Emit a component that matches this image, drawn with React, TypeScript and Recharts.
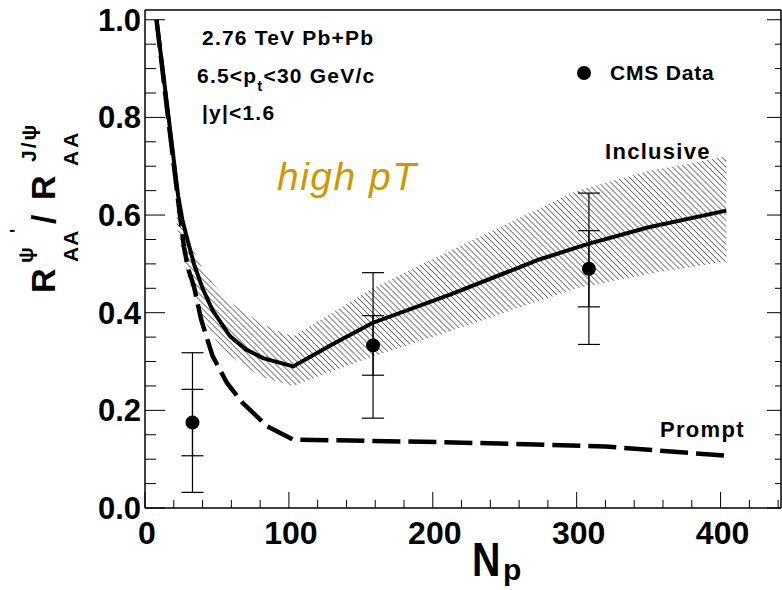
import React from "react";
import { ComposedChart, XAxis, YAxis, Line, Area, Scatter, ErrorBar } from "recharts";

const FONT = "'Liberation Sans', Arial, Helvetica, sans-serif";

// axis ticks: N_part every 20 (labelled every 100), ratio every 0.05 (labelled every 0.2)
const xTicks = [0, 20, 40, 60, 80, 100, 120, 140, 160, 180, 200, 220, 240, 260, 280, 300, 320, 340, 360, 380, 400, 420, 440];
const yTicks = [0, 0.05, 0.1, 0.15, 0.2, 0.25, 0.3, 0.35, 0.4, 0.45, 0.5, 0.55, 0.6, 0.65, 0.7, 0.75, 0.8, 0.85, 0.9, 0.95, 1.0];

// inclusive psi'/J/psi ratio (solid line)
const npInclusive = [8, 16, 23, 26, 29, 34, 40, 47, 59, 70, 82, 103, 130, 158, 212, 274, 308, 350, 404];
const rInclusive = [1.0, 0.81, 0.64, 0.59, 0.555, 0.5, 0.45, 0.405, 0.352, 0.325, 0.307, 0.29, 0.335, 0.379, 0.437, 0.509, 0.541, 0.575, 0.609];

// uncertainty band around the inclusive result
const npBand = [22, 26, 30, 35, 40, 50, 60, 70, 80, 90, 103, 130, 158, 200, 250, 300, 350, 404];
const bandLow = [0.58, 0.52, 0.47, 0.43, 0.39, 0.34, 0.31, 0.29, 0.27, 0.26, 0.25, 0.28, 0.31, 0.35, 0.4, 0.45, 0.48, 0.505];
const bandHigh = [0.62, 0.58, 0.55, 0.52, 0.49, 0.45, 0.42, 0.4, 0.38, 0.365, 0.352, 0.4, 0.45, 0.51, 0.58, 0.65, 0.69, 0.72];

// prompt contribution (dashed line)
const npPrompt = [8, 16, 23, 27, 30, 34, 39, 47, 57, 68, 85, 103, 207, 320, 404];
const rPrompt = [1.0, 0.8, 0.63, 0.536, 0.49, 0.454, 0.386, 0.311, 0.256, 0.215, 0.167, 0.14, 0.135, 0.126, 0.107];

// CMS points with statistical and systematic errors
const npCms = [33, 158.5, 308.5];
const rCms = [0.175, 0.333, 0.49];
const statCms = [0.068, 0.061, 0.078];
const sysCms = [0.143, 0.149, 0.155];

const inclusiveData = npInclusive.map((np, i) => ({ np, r: rInclusive[i] }));
const bandData = npBand.map((np, i) => ({ np, range: [bandLow[i], bandHigh[i]] }));
const promptData = npPrompt.map((np, i) => ({ np, r: rPrompt[i] }));
const cmsData = npCms.map((np, i) => ({ np, r: rCms[i], stat: statCms[i], sys: sysCms[i] }));

const isMajorY = (v: number) => Math.abs(v / 0.2 - Math.round(v / 0.2)) < 1e-6;

const BottomTick = ({ x, y, payload }: any) => {
  const major = payload.value % 100 === 0;
  return (
    <g>
      <line x1={x} y1={y} x2={x} y2={y - (major ? 16 : 8)} stroke="#000" />
      {major && (
        <text x={x + 2} y={y + 36} textAnchor="middle" fontSize={32} fontWeight="bold" fontFamily={FONT} fill="#000">
          {payload.value}
        </text>
      )}
    </g>
  );
};

const TopTick = ({ x, y, payload }: any) => {
  const major = payload.value % 100 === 0;
  return <line x1={x} y1={y} x2={x} y2={y + (major ? 14 : 7)} stroke="#000" />;
};

const LeftTick = ({ x, y, payload }: any) => {
  const major = isMajorY(payload.value);
  return (
    <g>
      <line x1={x} y1={y} x2={x + (major ? 20 : 11)} y2={y} stroke="#000" />
      {major && (
        <text x={x - 4} y={y + 11} textAnchor="end" fontSize={31} fontWeight="bold" fontFamily={FONT} fill="#000">
          {payload.value.toFixed(1)}
        </text>
      )}
    </g>
  );
};

const RightTick = ({ x, y, payload }: any) => {
  const major = isMajorY(payload.value);
  return <line x1={x} y1={y} x2={x - (major ? 14 : 6)} y2={y} stroke="#000" />;
};

const Dot = ({ cx, cy }: any) => <circle cx={cx} cy={cy} r={7} fill="#000" />;

const txt = { fontFamily: FONT, fontWeight: "bold" as const, fill: "#000" };
const frame = { stroke: "#000", strokeWidth: 1.5 };

export default function App() {
  return (
    <div style={{ position: "absolute", left: 0, top: 0, width: 782, height: 590, background: "#fff" }}>
      <ComposedChart width={782} height={590} margin={{ top: 9, right: 0, bottom: 81, left: 144 }}>
        <defs>
          <pattern id="hatch" patternUnits="userSpaceOnUse" width={4.2} height={4.2} patternTransform="rotate(-45)">
            <line x1={0} y1={0} x2={0} y2={4.2} stroke="#111" strokeWidth={1.1} />
          </pattern>
        </defs>
        <XAxis
          xAxisId="b"
          dataKey="np"
          type="number"
          domain={[0, 442]}
          allowDataOverflow
          ticks={xTicks}
          interval={0}
          height={1}
          tickSize={0}
          tickMargin={0}
          tickLine={false}
          axisLine={frame}
          tick={<BottomTick />}
        />
        <XAxis
          xAxisId="t"
          orientation="top"
          type="number"
          domain={[0, 442]}
          allowDataOverflow
          ticks={xTicks}
          interval={0}
          height={1}
          tickSize={0}
          tickMargin={0}
          tickLine={false}
          axisLine={frame}
          tick={<TopTick />}
        />
        <YAxis
          yAxisId="l"
          type="number"
          domain={[0, 1.02]}
          allowDataOverflow
          ticks={yTicks}
          interval={0}
          width={1}
          tickSize={0}
          tickMargin={0}
          tickLine={false}
          axisLine={frame}
          tick={<LeftTick />}
        />
        <YAxis
          yAxisId="r"
          orientation="right"
          type="number"
          domain={[0, 1.02]}
          allowDataOverflow
          ticks={yTicks}
          interval={0}
          width={1}
          tickSize={0}
          tickMargin={0}
          tickLine={false}
          axisLine={frame}
          tick={<RightTick />}
        />
        <Area
          xAxisId="b"
          yAxisId="l"
          data={bandData}
          dataKey="range"
          type="linear"
          stroke="none"
          fill="url(#hatch)"
          fillOpacity={1}
          isAnimationActive={false}
        />
        <Line
          xAxisId="b"
          yAxisId="l"
          data={promptData}
          dataKey="r"
          type="linear"
          stroke="#000"
          strokeWidth={4.5}
          strokeDasharray="28 8"
          dot={false}
          isAnimationActive={false}
        />
        <Line
          xAxisId="b"
          yAxisId="l"
          data={inclusiveData}
          dataKey="r"
          type="linear"
          stroke="#000"
          strokeWidth={4}
          dot={false}
          isAnimationActive={false}
        />
        <Scatter xAxisId="b" yAxisId="l" data={cmsData} dataKey="r" shape={<Dot />} isAnimationActive={false}>
          <ErrorBar dataKey="sys" direction="y" width={11} stroke="#000" strokeWidth={1.2} />
          <ErrorBar dataKey="stat" direction="y" width={11} stroke="#000" strokeWidth={1.2} />
        </Scatter>
      </ComposedChart>

      <svg width={782} height={590} style={{ position: "absolute", left: 0, top: 0, pointerEvents: "none" }}>
        {/* annotations */}
        <text x={202} y={45} fontSize={21} letterSpacing={1.2} {...txt}>2.76 TeV Pb+Pb</text>
        <text x={197} y={83} fontSize={21} letterSpacing={1.2} {...txt}>
          6.5&lt;p
          <tspan fontSize={15} dy={8}>t</tspan>
          <tspan dy={-8}>&lt;30 GeV/c</tspan>
        </text>
        <text x={202} y={120} fontSize={21} letterSpacing={1.2} {...txt}>|y|&lt;1.6</text>
        <text x={277} y={190} fontSize={39} fontStyle="italic" letterSpacing={1.5} fontFamily={FONT} fill="#cc9900">
          high pT
        </text>

        {/* legend */}
        <circle cx={584} cy={73} r={7} fill="#000" />
        <text x={610} y={80} fontSize={21} letterSpacing={0.8} {...txt}>CMS Data</text>

        <text x={605} y={159} fontSize={22} letterSpacing={1.3} {...txt}>Inclusive</text>
        <text x={660} y={437} fontSize={22} letterSpacing={1.3} {...txt}>Prompt</text>

        {/* x title N_p */}
        <text transform="translate(472,576) scale(0.82,1)" fontSize={48} {...txt}>N</text>
        <text x={503} y={580} fontSize={30} {...txt}>p</text>

        {/* y title R_AA^psi' / R_AA^J/psi */}
        <g transform="translate(55,293) rotate(-90)">
          <text x={0} y={0} fontSize={34} {...txt}>R</text>
        </g>
        <g transform="translate(78,262) rotate(-90)">
          <text x={0} y={0} fontSize={21} letterSpacing={1} {...txt}>AA</text>
        </g>
        <g transform="translate(33,263) rotate(-90)">
          <text x={0} y={0} fontSize={21} {...txt}>ψ</text>
        </g>
        <g transform="translate(23,233) rotate(-90)">
          <text x={0} y={0} fontSize={18} {...txt}>'</text>
        </g>
        <g transform="translate(55,224) rotate(-90)">
          <text x={0} y={0} fontSize={34} {...txt}>/</text>
        </g>
        <g transform="translate(55,200) rotate(-90)">
          <text x={0} y={0} fontSize={34} {...txt}>R</text>
        </g>
        <g transform="translate(78,166) rotate(-90)">
          <text x={0} y={0} fontSize={21} letterSpacing={3} {...txt}>AA</text>
        </g>
        <g transform="translate(36,162) rotate(-90)">
          <text x={0} y={0} fontSize={21} letterSpacing={2} {...txt}>J/ψ</text>
        </g>
      </svg>
    </div>
  );
}
